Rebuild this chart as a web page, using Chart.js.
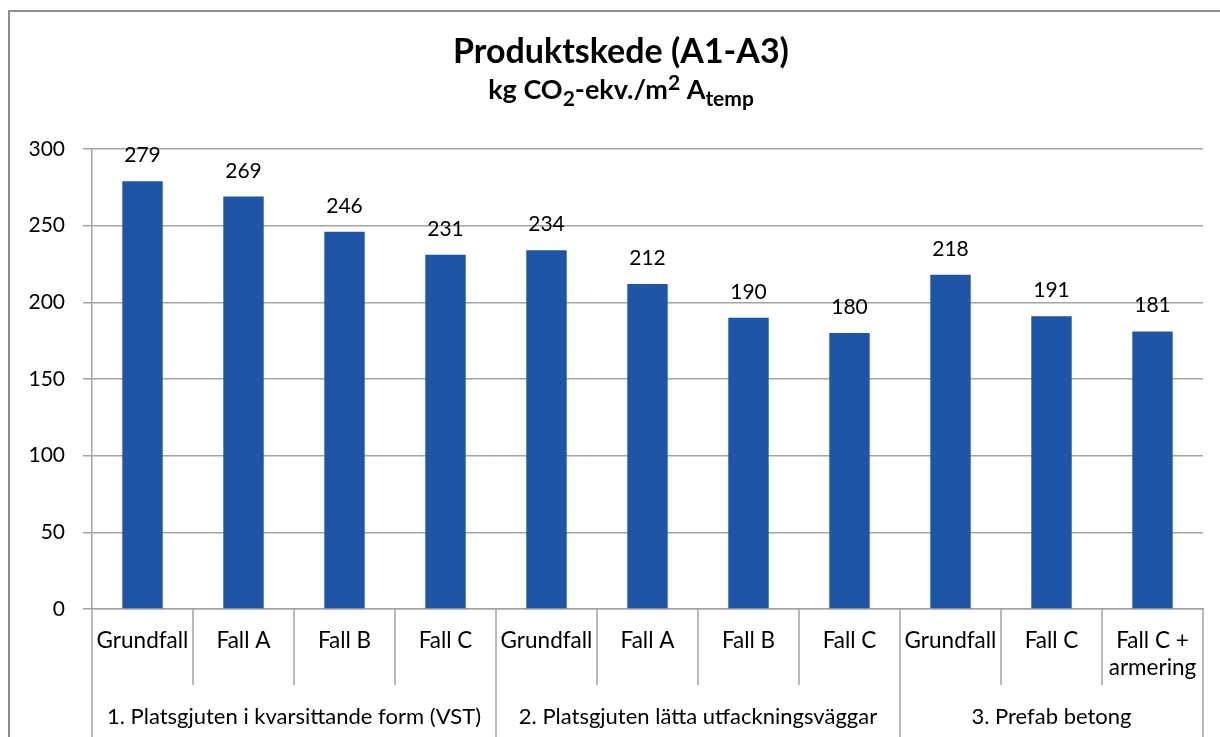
<!DOCTYPE html>
<html>
<head>
<meta charset="utf-8">
<script src="https://cdn.jsdelivr.net/npm/chart.js@4"></script>
<style>
    html, body { margin: 0; padding: 0; background: #fff; }
    #wrap { width: 1220px; height: 737px; }
</style>
</head>
<body>
<div id="wrap"><canvas id="chart" width="1220" height="737"></canvas></div>
<script>
// data
const categories = [
    ["Grundfall"], ["Fall A"], ["Fall B"], ["Fall C"],
    ["Grundfall"], ["Fall A"], ["Fall B"], ["Fall C"],
    ["Grundfall"], ["Fall C"], ["Fall C +", "armering"]
];
const groups = [
    "1. Platsgjuten i kvarsittande form (VST)",
    "2. Platsgjuten lätta utfackningsväggar",
    "3. Prefab betong"
];
const groupSizes = [4, 4, 3];
const values = [279, 269, 246, 231, 234, 212, 190, 180, 218, 191, 181];
const yTicks = [0, 50, 100, 150, 200, 250, 300];

const FONT = "Lato, 'Open Sans', sans-serif";
const GRID = "#a3a3a3";
const BAR = "#1f55a6";

// title with sub/superscripts, border, value labels and two-level x axis
const extras = {
    id: "extras",
    afterDraw(c) {
        const ctx = c.ctx;
        const area = c.chartArea;
        const x = c.scales.x;
        ctx.save();

        // outer border
        ctx.strokeStyle = "#8c8c8c";
        ctx.lineWidth = 2;
        ctx.strokeRect(9, 11, 1300, 900);

        // title
        ctx.fillStyle = "#000";
        ctx.textAlign = "center";
        ctx.textBaseline = "alphabetic";
        ctx.font = "bold 34px " + FONT;
        ctx.fillText("Produktskede (A1-A3)", 621, 63);

        const parts = [
            { t: "kg CO", s: 27, dy: 0 },
            { t: "2", s: 21, dy: 7 },
            { t: "-ekv./m", s: 27, dy: 0 },
            { t: "2", s: 21, dy: -9 },
            { t: " A", s: 27, dy: 0 },
            { t: "temp", s: 21, dy: 7 }
        ];
        let total = 0;
        parts.forEach(p => {
            ctx.font = "bold " + p.s + "px " + FONT;
            p.w = ctx.measureText(p.t).width;
            total += p.w;
        });
        let px = 621 - total / 2;
        ctx.textAlign = "left";
        parts.forEach(p => {
            ctx.font = "bold " + p.s + "px " + FONT;
            ctx.fillText(p.t, px, 99 + p.dy);
            px += p.w;
        });

        // value labels
        ctx.textAlign = "center";
        ctx.font = "21px " + FONT;
        c.getDatasetMeta(0).data.forEach((bar, i) => {
            ctx.fillText(String(values[i]), bar.x, bar.y - 19);
        });

        // x axis separators and labels
        const step = x.getPixelForValue(1) - x.getPixelForValue(0);
        ctx.strokeStyle = GRID;
        ctx.lineWidth = 1.5;
        let idx = 0;
        const edges = [0];
        groupSizes.forEach(n => { idx += n; edges.push(idx); });
        for (let i = 0; i <= categories.length; i++) {
            const lx = x.getPixelForValue(i) - step / 2;
            const isGroup = edges.includes(i);
            ctx.beginPath();
            ctx.moveTo(lx, area.bottom);
            ctx.lineTo(lx, isGroup ? 737 : 685);
            ctx.stroke();
        }

        ctx.font = "22.5px " + FONT;
        categories.forEach((lines, i) => {
            const cx = x.getPixelForValue(i);
            lines.forEach((ln, j) => ctx.fillText(ln, cx, 648 + j * 27));
        });
        ctx.font = "22px " + FONT;
        groups.forEach((g, k) => {
            const a = x.getPixelForValue(edges[k]) - step / 2;
            const b = x.getPixelForValue(edges[k + 1]) - step / 2;
            ctx.fillText(g, (a + b) / 2, 724);
        });

        ctx.restore();
    }
};

new Chart(document.getElementById("chart"), {
    type: "bar",
    data: {
        labels: categories.map(l => l.join(" ")),
        datasets: [{
            data: values,
            backgroundColor: BAR,
            categoryPercentage: 1,
            barPercentage: 0.4
        }]
    },
    options: {
        responsive: false,
        animation: false,
        layout: { padding: { left: 8, top: 149, right: 17, bottom: 0 } },
        plugins: { legend: { display: false }, title: { display: false }, tooltip: { enabled: false } },
        scales: {
            x: {
                grid: { display: false },
                border: { display: true, color: GRID, width: 1.5 },
                ticks: { display: false },
                afterFit: s => { s.height = 128; }
            },
            y: {
                min: 0,
                max: 300,
                afterBuildTicks: s => { s.ticks = yTicks.map(v => ({ value: v })); },
                grid: { color: GRID, lineWidth: 1.5, tickLength: 9 },
                border: { display: true, color: GRID, width: 1.5 },
                ticks: { color: "#000", font: { family: FONT, size: 21 }, padding: 18 },
                afterFit: s => { s.width = 84; }
            }
        }
    },
    plugins: [extras]
});
</script>
</body>
</html>
